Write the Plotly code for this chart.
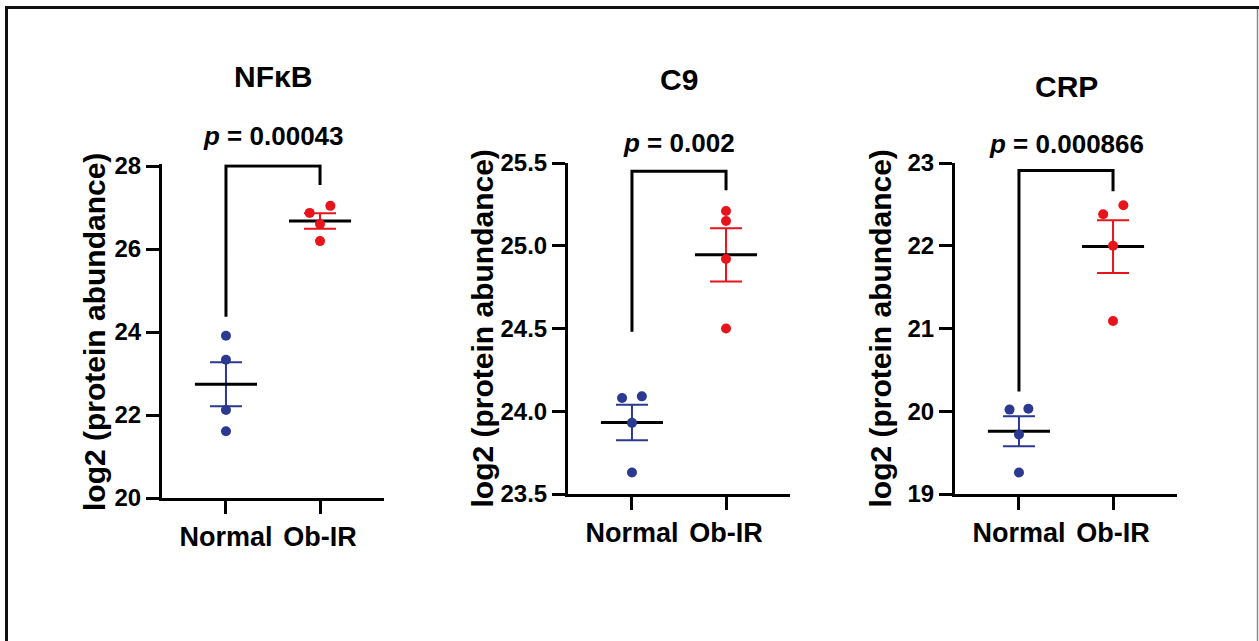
import numpy as np
import plotly.graph_objects as go

# ---------------- data ----------------
panel_titles = ["NF\u03baB", "C9", "CRP"]
categories = ["Normal", "Ob-IR"]
p_values = ["0.00043", "0.002", "0.000866"]

nfkb_normal = [23.91, 23.33, 22.12, 21.61]
nfkb_obir = [26.87, 27.04, 26.60, 26.19]
c9_normal = [24.08, 24.09, 23.93, 23.63]
c9_obir = [25.21, 25.15, 24.92, 24.50]
crp_normal = [20.02, 20.03, 19.72, 19.26]
crp_obir = [22.38, 22.49, 22.00, 21.09]

nfkb_ticks = [20, 22, 24, 26, 28]
c9_ticks = [23.5, 24.0, 24.5, 25.0, 25.5]
crp_ticks = [19, 20, 21, 22, 23]

# significance bracket ends (y values): left foot, top, right foot
bracket_left = [24.37, 24.48, 20.24]
bracket_top = [28.0, 25.45, 22.91]
bracket_right = [27.54, 25.335, 22.66]

# ---------------- style / layout ----------------
W, H = 1259, 641
BLUE = "#2b3990"
RED = "#e8141c"
FONT = "Liberation Sans"

panels = [
    dict(normal=nfkb_normal, obir=nfkb_obir, ticks=nfkb_ticks, fmt="d", top_pad=0.04,
         xpx=(162, 384), ypx=(166, 498), title_y=76, p_y=136, ytitle_x=94,
         jit_n=[0, 0, 0, 0], jit_o=[-0.11, 0.11, 0, 0]),
    dict(normal=c9_normal, obir=c9_obir, ticks=c9_ticks, fmt=".1f", top_pad=0.0,
         xpx=(568, 790), ypx=(163, 494), title_y=79, p_y=143, ytitle_x=482,
         jit_n=[-0.105, 0.105, 0, 0], jit_o=[0, 0, 0, 0]),
    dict(normal=crp_normal, obir=crp_obir, ticks=crp_ticks, fmt="d", top_pad=0.0,
         xpx=(955, 1177), ypx=(163, 494), title_y=86, p_y=144, ytitle_x=880,
         jit_n=[-0.1, 0.1, 0, 0], jit_o=[-0.105, 0.11, 0, 0]),
]

fig = go.Figure()
annotations = []
layout_axes = {}

for i, pn in enumerate(panels):
    k = "" if i == 0 else str(i + 1)
    xr, yr = "x" + k, "y" + k
    groups = [(0, pn["normal"], BLUE, pn["jit_n"]), (1, pn["obir"], RED, pn["jit_o"])]

    # error bars (SEM)
    for xc, vals, col, jit in groups:
        v = np.array(vals)
        mean = v.mean()
        sem = v.std(ddof=1) / np.sqrt(len(v))
        fig.add_trace(go.Scatter(
            x=[xc], y=[mean], xaxis=xr, yaxis=yr, mode="markers",
            marker=dict(size=1, color="rgba(0,0,0,0)"),
            error_y=dict(type="data", array=[sem], color=col, thickness=2, width=16),
            showlegend=False, hoverinfo="skip"))
    # mean lines
    for xc, vals, col, jit in groups:
        mean = float(np.mean(vals))
        fig.add_trace(go.Scatter(
            x=[xc - 0.33, xc + 0.33], y=[mean, mean], xaxis=xr, yaxis=yr,
            mode="lines", line=dict(color="black", width=3),
            showlegend=False, hoverinfo="skip"))
    # points
    for xc, vals, col, jit in groups:
        fig.add_trace(go.Scatter(
            x=[xc + j for j in jit], y=vals, xaxis=xr, yaxis=yr, mode="markers",
            marker=dict(size=10, color=col, line=dict(width=0)),
            showlegend=False, cliponaxis=False))
    # bracket
    fig.add_trace(go.Scatter(
        x=[0, 0, 1, 1], y=[bracket_left[i], bracket_top[i], bracket_top[i], bracket_right[i]],
        xaxis=xr, yaxis=yr, mode="lines", line=dict(color="black", width=3),
        showlegend=False, hoverinfo="skip", cliponaxis=False))

    x0, x1 = pn["xpx"]
    yt, yb = pn["ypx"]
    lo, hi = pn["ticks"][0], pn["ticks"][-1]
    ppu = (yb - yt) / (hi - lo)
    yt_ext = yt - pn["top_pad"] * ppu
    layout_axes["xaxis" + k] = dict(
        domain=[x0 / W, x1 / W], range=[-0.68, 1.68], anchor=yr, automargin=False,
        tickvals=[0, 1], ticktext=categories,
        showline=True, linewidth=3, linecolor="black",
        ticks="outside", ticklen=13, tickwidth=3, tickcolor="black",
        showgrid=False, zeroline=False, fixedrange=True,
        tickfont=dict(family=FONT, size=27, color="black", weight="bold"),
        ticklabelstandoff=0)
    layout_axes["yaxis" + k] = dict(
        domain=[(H - yb) / H, (H - yt_ext) / H], range=[lo, hi + pn["top_pad"]], anchor=xr,
        automargin=False, tickvals=pn["ticks"], tickformat=pn["fmt"],
        showline=True, linewidth=3, linecolor="black",
        ticks="outside", ticklen=13, tickwidth=3, tickcolor="black",
        showgrid=False, zeroline=False, fixedrange=True,
        tickfont=dict(family=FONT, size=24, color="black", weight="bold"))

    # panel title
    annotations.append(dict(
        text=panel_titles[i], x=0.5, xref=xr, y=1 - pn["title_y"] / H, yref="paper",
        xanchor="center", yanchor="middle", showarrow=False,
        font=dict(family=FONT, size=30, color="black", weight="bold")))
    # p value
    annotations.append(dict(
        text="<i>p</i> = " + p_values[i], x=0.5, xref=xr, y=1 - pn["p_y"] / H, yref="paper",
        xanchor="center", yanchor="middle", showarrow=False,
        font=dict(family=FONT, size=26, color="black", weight="bold")))
    # y axis title
    annotations.append(dict(
        text="log2 (protein abundance)", x=pn["ytitle_x"] / W, xref="paper",
        y=1 - (yt + yb) / 2 / H, yref="paper", textangle=-90,
        xanchor="center", yanchor="middle", showarrow=False,
        font=dict(family=FONT, size=30, color="black", weight="bold")))

shapes = [
    dict(type="line", xref="paper", yref="paper", x0=6.5 / W, x1=6.5 / W,
         y0=0, y1=1 - 6 / H, line=dict(color="#111111", width=3)),
    dict(type="line", xref="paper", yref="paper", x0=5 / W, x1=1,
         y0=1 - 7.5 / H, y1=1 - 7.5 / H, line=dict(color="#111111", width=3)),
    dict(type="line", xref="paper", yref="paper", x0=1257.5 / W, x1=1257.5 / W,
         y0=0, y1=1 - 9 / H, line=dict(color="#8a8a8a", width=1.5)),
]

fig.update_layout(
    template="none",
    width=W, height=H, autosize=False, margin=dict(l=0, r=0, t=0, b=0, pad=0),
    paper_bgcolor="white", plot_bgcolor="white",
    showlegend=False, annotations=annotations, shapes=shapes,
    **layout_axes)

fig.write_html("out.html")
